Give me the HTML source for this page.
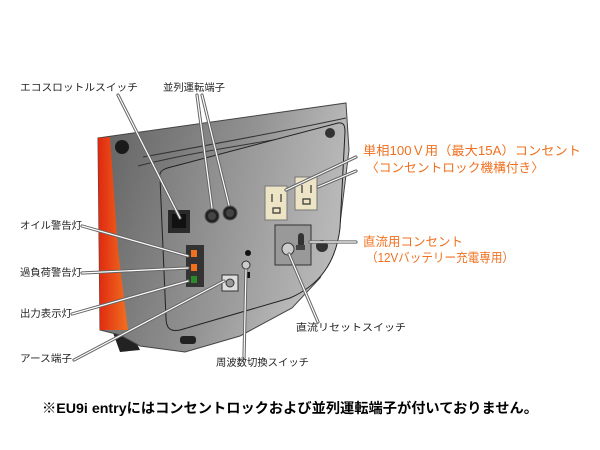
<!DOCTYPE html>
<html><head><meta charset="utf-8"><style>
html,body{margin:0;padding:0;background:#fff;}
svg{display:block;}
text{font-family:"Liberation Sans","Noto Sans CJK JP",sans-serif;}
</style></head><body>
<svg width="600" height="450" viewBox="0 0 600 450" xmlns="http://www.w3.org/2000/svg">
<defs>
<linearGradient id="body" x1="0" y1="0" x2="1" y2="0.3">
<stop offset="0" stop-color="#606060"/><stop offset="0.6" stop-color="#929292"/><stop offset="1" stop-color="#c0c0c0"/>
</linearGradient>
<linearGradient id="panel" x1="0" y1="0" x2="1" y2="0.2">
<stop offset="0" stop-color="#7c7c7c"/><stop offset="1" stop-color="#b8b8b8"/>
</linearGradient>
<linearGradient id="or" x1="0" y1="0" x2="1" y2="0">
<stop offset="0" stop-color="#e02810"/><stop offset="1" stop-color="#f07020"/>
</linearGradient>
</defs>
<path d="M112,330 L130,330 L140,350 L120,352 Z" fill="#222"/>
<path d="M98,138 L346,103 L349,150 L339,232 L320,278 L292,308 L240,336 L185,352 L140,346 L120,335 L100,330 Z" fill="url(#body)" stroke="#444" stroke-width="1"/>
<path d="M98,138 L110,137 L118,250 L128,330 L100,330 Z" fill="url(#or)"/>
<path d="M138,166 C200,150 280,140 342,128" fill="none" stroke="#333" stroke-width="1"/>
<path d="M143,157 C220,143 290,130 346,118" fill="none" stroke="#333" stroke-width="1"/>
<path d="M160,178 C158,170 166,168 175,166 L338,123 C344,122 345,126 345,132 L340,228 C336,262 320,285 290,298 L180,330 C170,332 166,328 166,318 Z" fill="url(#panel)" stroke="#222" stroke-width="1"/>
<circle cx="122" cy="147" r="7" fill="#1a1a1a"/>
<circle cx="330" cy="133" r="5" fill="#333"/>
<circle cx="322" cy="246" r="6" fill="#333"/>
<rect x="180" y="336" width="16" height="8" rx="3" fill="#222"/>
<rect x="168" y="210" width="22" height="23" fill="#2a2a2a"/>
<rect x="172" y="214" width="14" height="14" fill="#111"/>
<circle cx="212" cy="216" r="7" fill="#222" stroke="#555"/><circle cx="212" cy="216" r="4" fill="#444"/>
<circle cx="230" cy="213" r="7" fill="#222" stroke="#555"/><circle cx="230" cy="213" r="4" fill="#444"/>
<rect x="186" y="245" width="18" height="42" fill="#333"/>
<rect x="191" y="250" width="6" height="7" fill="#f07020"/>
<rect x="191" y="264" width="6" height="7" fill="#f07020"/>
<rect x="191" y="276" width="6" height="7" fill="#2a8a2a"/>
<rect x="222" y="275" width="16" height="16" fill="#ddd" stroke="#333"/>
<circle cx="230" cy="283" r="4" fill="#999" stroke="#333"/>
<circle cx="248" cy="253" r="3" fill="#111"/>
<circle cx="246" cy="265" r="4" fill="#ccc" stroke="#333"/>
<rect x="247" y="272" width="3" height="6" fill="#111"/>
<rect x="265" y="186" width="22" height="34" fill="#ece4c4" stroke="#777"/>
<rect x="295" y="177" width="22" height="33" fill="#ece4c4" stroke="#777"/>
<g fill="none" stroke="#333" stroke-width="1.2">
<path d="M272,194 v8 M281,194 v8 M273,208 h7 v5 h-7 z"/>
<path d="M302,185 v8 M311,185 v8 M303,199 h7 v5 h-7 z"/>
</g>
<rect x="275" y="225" width="36" height="40" fill="#999" stroke="#333"/>
<circle cx="288" cy="249" r="6" fill="#ccc" stroke="#333"/>
<rect x="298" y="233" width="6" height="14" rx="3" fill="#333"/>
<rect x="296" y="245" width="9" height="5" fill="#444"/>
<g fill="none" stroke-linecap="round">
<g stroke="#666" stroke-width="3.2">
<path d="M118,95 L180,218"/><path d="M197,95 L212,208"/><path d="M202,95 L229,205"/>
<path d="M82,226 L188,256"/><path d="M82,273 L188,268"/><path d="M72,314 L188,281"/>
<path d="M74,360 L224,281"/><path d="M244,358 L246,270"/><path d="M318,322 L289,254"/>
<path d="M356,157 L286,190"/><path d="M356,171 L318,187"/><path d="M356,242 L310,242"/>
</g>
<g stroke="#fff" stroke-width="1.2">
<path d="M118,95 L180,218"/><path d="M197,95 L212,208"/><path d="M202,95 L229,205"/>
<path d="M82,226 L188,256"/><path d="M82,273 L188,268"/><path d="M72,314 L188,281"/>
<path d="M74,360 L224,281"/><path d="M244,358 L246,270"/><path d="M318,322 L289,254"/>
<path d="M356,157 L286,190"/><path d="M356,171 L318,187"/><path d="M356,242 L310,242"/>
</g>
</g>
<g font-size="10" fill="#222">
<text x="20" y="91" textLength="118" lengthAdjust="spacingAndGlyphs">エコスロットルスイッチ</text>
<text x="163" y="91" textLength="62" lengthAdjust="spacingAndGlyphs">並列運転端子</text>
<text x="20" y="229" textLength="62" lengthAdjust="spacingAndGlyphs">オイル警告灯</text>
<text x="20" y="276" textLength="62" lengthAdjust="spacingAndGlyphs">過負荷警告灯</text>
<text x="20" y="317" textLength="52" lengthAdjust="spacingAndGlyphs">出力表示灯</text>
<text x="20" y="362" textLength="52" lengthAdjust="spacingAndGlyphs">アース端子</text>
<text x="216" y="366" textLength="93" lengthAdjust="spacingAndGlyphs">周波数切換スイッチ</text>
<text x="296" y="331" textLength="110" lengthAdjust="spacingAndGlyphs">直流リセットスイッチ</text>
</g>
<g font-size="12.5" fill="#f07020">
<text x="363" y="155" textLength="218" lengthAdjust="spacingAndGlyphs">単相100Ｖ用（最大15A）コンセント</text>
<text x="366" y="172" textLength="178" lengthAdjust="spacingAndGlyphs">〈コンセントロック機構付き〉</text>
<text x="363" y="246" textLength="100" lengthAdjust="spacingAndGlyphs">直流用コンセント</text>
<text x="366" y="262" textLength="148" lengthAdjust="spacingAndGlyphs">（12Vバッテリー充電専用）</text>
</g>
<text x="42" y="413" font-size="14" font-weight="bold" fill="#000" textLength="496" lengthAdjust="spacingAndGlyphs">※EU9i entryにはコンセントロックおよび並列運転端子が付いておりません。</text>
</svg>
</body></html>
